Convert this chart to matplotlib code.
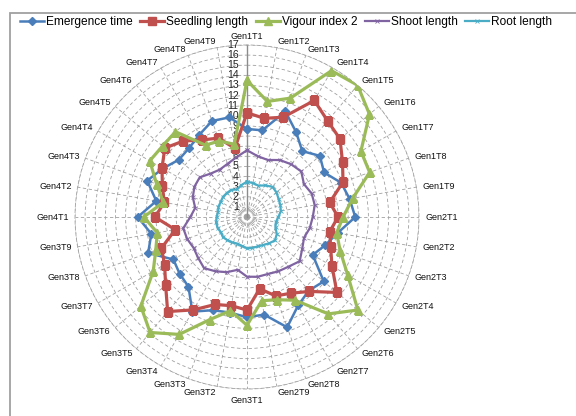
import numpy as np
import matplotlib
matplotlib.use("Agg")
import matplotlib.pyplot as plt
from matplotlib.patches import Rectangle

plt.rcParams["font.family"] = ["Liberation Sans", "DejaVu Sans"]

categories = [
    "Gen1T1", "Gen1T2", "Gen1T3", "Gen1T4", "Gen1T5", "Gen1T6", "Gen1T7", "Gen1T8", "Gen1T9",
    "Gen2T1", "Gen2T2", "Gen2T3", "Gen2T4", "Gen2T5", "Gen2T6", "Gen2T7", "Gen2T8", "Gen2T9",
    "Gen3T1", "Gen3T2", "Gen3T3", "Gen3T4", "Gen3T5", "Gen3T6", "Gen3T7", "Gen3T8", "Gen3T9",
    "Gen4T1", "Gen4T2", "Gen4T3", "Gen4T4", "Gen4T5", "Gen4T6", "Gen4T7", "Gen4T8", "Gen4T9",
]

emergence_time = [8.7, 8.7, 11.1, 9.7, 8.5, 9.4, 8.8, 9.9, 10.3,
                  10.7, 9.1, 8.2, 7.5, 9.9, 9.5, 10.1, 11.6, 9.8,
                  9.9, 9.6, 9.8, 10.8, 9.0, 8.7, 8.4, 10.4, 9.6,
                  10.8, 9.1, 10.5, 9.6, 8.8, 8.9, 9.4, 10.1, 10.0]

seedling_length = [10.3, 9.9, 10.5, 13.3, 12.4, 12.0, 10.9, 10.1, 8.3,
                   9.0, 8.3, 8.8, 9.7, 11.6, 9.6, 8.7, 8.3, 7.2,
                   9.2, 8.9, 9.2, 10.6, 12.2, 10.5, 9.4, 9.0, 7.2,
                   9.1, 8.3, 8.9, 9.7, 10.6, 9.8, 8.8, 8.3, 6.9]

vigour_index = [13.5, 11.6, 12.5, 16.7, 17.0, 15.8, 13.0, 12.9, 10.6,
                9.5, 9.0, 9.8, 11.5, 14.3, 12.5, 9.5, 8.7, 8.4,
                10.7, 9.4, 10.8, 13.4, 14.9, 13.7, 10.7, 9.6, 9.0,
                10.2, 8.4, 9.5, 11.1, 10.9, 11.0, 8.2, 8.0, 7.3]

shoot_length = [6.6, 6.1, 6.0, 6.5, 6.8, 7.0, 6.5, 6.8, 6.8,
                6.5, 6.3, 6.0, 6.3, 6.8, 6.4, 6.2, 6.0, 6.0,
                5.9, 5.3, 5.8, 6.2, 6.6, 6.3, 6.1, 6.3, 6.4,
                5.6, 5.2, 5.7, 6.0, 6.1, 5.6, 5.4, 5.6, 6.0]

root_length = [3.5, 3.4, 3.3, 3.6, 3.9, 3.8, 3.6, 3.5, 3.4,
               3.1, 2.9, 3.0, 3.4, 3.6, 3.4, 3.2, 3.1, 3.1,
               3.1, 2.9, 2.8, 2.9, 3.0, 3.1, 3.0, 3.1, 3.1,
               3.0, 2.9, 3.0, 3.0, 3.1, 3.1, 3.1, 2.9, 3.2]

radial_ticks = list(range(1, 18))
r_max = 17

series = [
    ("Emergence time", emergence_time, "#4A7EBB", "D", 4.0, 1.8),
    ("Seedling length", seedling_length, "#C0504D", "s", 5.5, 2.3),
    ("Vigour index 2", vigour_index, "#9BBB59", "^", 6.0, 2.3),
    ("Shoot length", shoot_length, "#8064A2", "x", 3.0, 1.6),
    ("Root length", root_length, "#4BACC6", "x", 3.5, 1.6),
]

W, H = 576, 416
fig = plt.figure(figsize=(W / 100, H / 100), dpi=100)

# outer chart frame (only left and top edges fall inside the image)
fig.patches.append(Rectangle((10 / W, -0.1), 1.2, 1.1 - 13 / H,
                             transform=fig.transFigure, fill=False,
                             edgecolor="#a0a0a0", lw=1.3))

cx, cy, rad = 247, 217, 172
ax = fig.add_axes([(cx - rad) / W, 1 - (cy + rad) / H, 2 * rad / W, 2 * rad / H],
                  projection="polar")
ax.set_theta_zero_location("N")
ax.set_theta_direction(-1)
ax.set_facecolor("none")

n = len(categories)
angles = np.arange(n) * 2 * np.pi / n

ax.set_ylim(0, r_max)
ax.set_yticks(radial_ticks)
ax.set_yticklabels([])
ax.set_xticks(angles)
ax.set_xticklabels([])
ax.grid(True, color="#a0a0a0", lw=0.6, ls=(0, (4, 3)))
ax.spines["polar"].set_color("#a0a0a0")
ax.spines["polar"].set_linewidth(0.6)
ax.spines["polar"].set_linestyle((0, (4, 3)))
ax.tick_params(length=0)

# value axis
ax.plot([0, 0], [0, r_max], color="#8c8c8c", lw=1.0, zorder=2)
for r in radial_ticks:
    ax.annotate(str(r), xy=(0, r), xytext=(-6, 0), textcoords="offset points",
                ha="right", va="center", fontsize=7.6, color="#222222")

closed = np.append(angles, angles[0])
for label, vals, color, marker, ms, lw in series:
    v = np.append(vals, vals[0])
    if marker == "x":
        ax.plot(closed, v, color=color, lw=lw, marker=marker, ms=ms,
                mew=0.6, label=label, zorder=3)
    else:
        ax.plot(closed, v, color=color, lw=lw, marker=marker, ms=ms,
                mec=color, label=label, zorder=4)

for ang, name in zip(angles, categories):
    s, c = np.sin(ang), np.cos(ang)
    ha = "left" if s > 0.05 else ("right" if s < -0.05 else "center")
    if abs(s) <= 0.05:
        va = "bottom" if c > 0 else "top"
        rr = 17.35 if c > 0 else 17.7
    else:
        va = "center"
        rr = 17.6
    ax.text(ang, rr, name, ha=ha, va=va, fontsize=6.5, color="#111111")

fig.legend(loc="upper left", bbox_to_anchor=(20 / W, 1 - 16 / H), ncol=5,
           frameon=False, fontsize=8.6, handlelength=2.0, handletextpad=0.2,
           columnspacing=0.6, borderaxespad=0, borderpad=0)

fig.savefig("out.png", dpi=100)
